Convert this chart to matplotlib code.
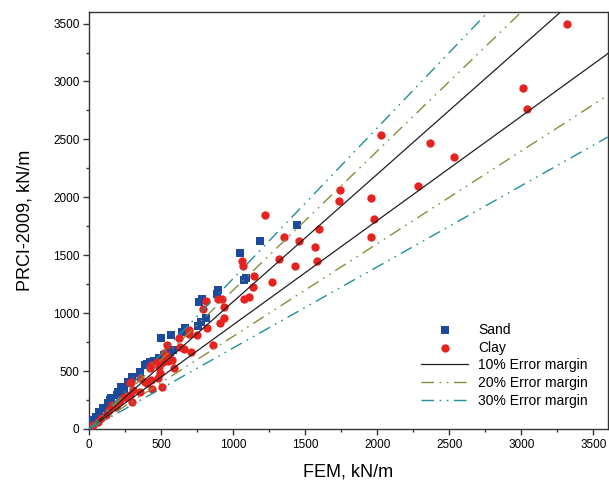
import matplotlib
matplotlib.use("Agg")
import matplotlib.pyplot as plt
import numpy as np

plt.rcParams['font.family'] = ['Liberation Sans', 'DejaVu Sans']

# ---- data ----
sand_fem = [1440, 1188, 1050, 1072, 1086, 895, 885, 783, 762, 811, 774, 753, 664, 641,
            566, 496, 583, 559, 518, 482, 452, 401, 424, 386, 354, 350, 296, 268, 238,
            222, 198, 191, 152, 145, 128, 98, 93, 70, 47, 24, 10, 5]
sand_prci = [1760, 1622, 1518, 1288, 1300, 1199, 1167, 1121, 1098, 957, 922, 890, 873, 836,
             810, 784, 683, 666, 640, 611, 590, 564, 582, 553, 481, 495, 452, 409, 337,
             366, 322, 294, 265, 251, 222, 179, 179, 150, 106, 78, 45, 20]

clay_fem = [3320, 3010, 3040, 2368, 2530, 2283, 2025, 1743, 1731, 1957, 1978, 1955, 1219,
            1354, 1454, 1596, 1566, 1580, 1426, 1319, 1147, 1062, 1067, 1268, 1139, 1111,
            1072, 813, 895, 920, 937, 788, 938, 911, 815, 746, 862, 692, 692, 625, 541,
            660, 704, 629, 520, 545, 471, 431, 587, 576, 506, 482, 494, 424, 354, 284,
            401, 436, 506, 350, 238, 284, 156, 203, 296, 536, 513, 478, 431, 384, 303,
            291, 256, 210, 187, 140, 117, 82, 59, 24]
clay_prci = [3500, 2947, 2760, 2466, 2351, 2098, 2541, 2066, 1971, 1997, 1812, 1654, 1850,
             1657, 1622, 1726, 1567, 1446, 1409, 1469, 1322, 1452, 1411, 1271, 1225, 1141,
             1121, 1109, 1121, 1126, 1052, 1040, 962, 913, 876, 812, 723, 856, 818, 784, 729,
             694, 666, 706, 654, 590, 582, 553, 525, 596, 579, 538, 481, 524, 438, 395,
             395, 343, 366, 322, 279, 294, 207, 236, 236, 640, 582, 438, 424, 409, 337,
             409, 279, 251, 193, 164, 121, 92, 63, 35]

margin_labels = ["10% Error margin", "20% Error margin", "30% Error margin"]
margins = [0.10, 0.20, 0.30]
line_x = [0, 3600]

# ---- plot ----
fig = plt.figure(figsize=(6.09, 4.91), dpi=100)
ax = fig.add_axes([0.1466, 0.1263, 0.8513, 0.8493])

ax.scatter(sand_fem, sand_prci, marker='s', s=36, color='#1c4a9c', linewidths=0,
           label='Sand', zorder=3)
ax.scatter(clay_fem, clay_prci, marker='o', s=36, color='#e8231f', linewidths=0,
           label='Clay', zorder=4)

dash = (0, (9, 4, 1.2, 4, 1.2, 4))
styles = [dict(color='#231f20', linestyle='-', lw=0.9),
          dict(color='#8c8a3c', linestyle=dash, lw=1.0),
          dict(color='#1e9098', linestyle=dash, lw=1.0)]
lx = np.array(line_x, dtype=float)
for m, lab, st in zip(margins, margin_labels, styles):
    ax.plot(lx, lx * (1 + m), label=lab, zorder=5, **st)
    ax.plot(lx, lx * (1 - m), zorder=5, **st)

ax.set_xlim(0, 3600)
ax.set_ylim(0, 3600)
ax.set_xticks(np.arange(0, 3501, 500))
ax.set_yticks(np.arange(0, 3501, 500))
ax.set_xticks(np.arange(250, 3600, 500), minor=True)
ax.set_yticks(np.arange(250, 3600, 500), minor=True)
ax.tick_params(axis='both', which='major', direction='out', length=4, width=1,
               labelsize=8.5, color='#333333', pad=3)
ax.tick_params(axis='both', which='minor', direction='out', length=2.5, width=1,
               color='#333333')
for sp in ax.spines.values():
    sp.set_color('#333333')
    sp.set_linewidth(1)

ax.set_xlabel('FEM, kN/m', fontsize=13, labelpad=9)
ax.set_ylabel('PRCI-2009, kN/m', fontsize=13, labelpad=14)

leg = ax.legend(loc='upper left', bbox_to_anchor=(0.64, 0.254), frameon=False,
                fontsize=10, handlelength=3.4, handletextpad=0.7, labelspacing=0.26,
                borderpad=0, borderaxespad=0, scatterpoints=1)

fig.savefig('out.png', dpi=100)
